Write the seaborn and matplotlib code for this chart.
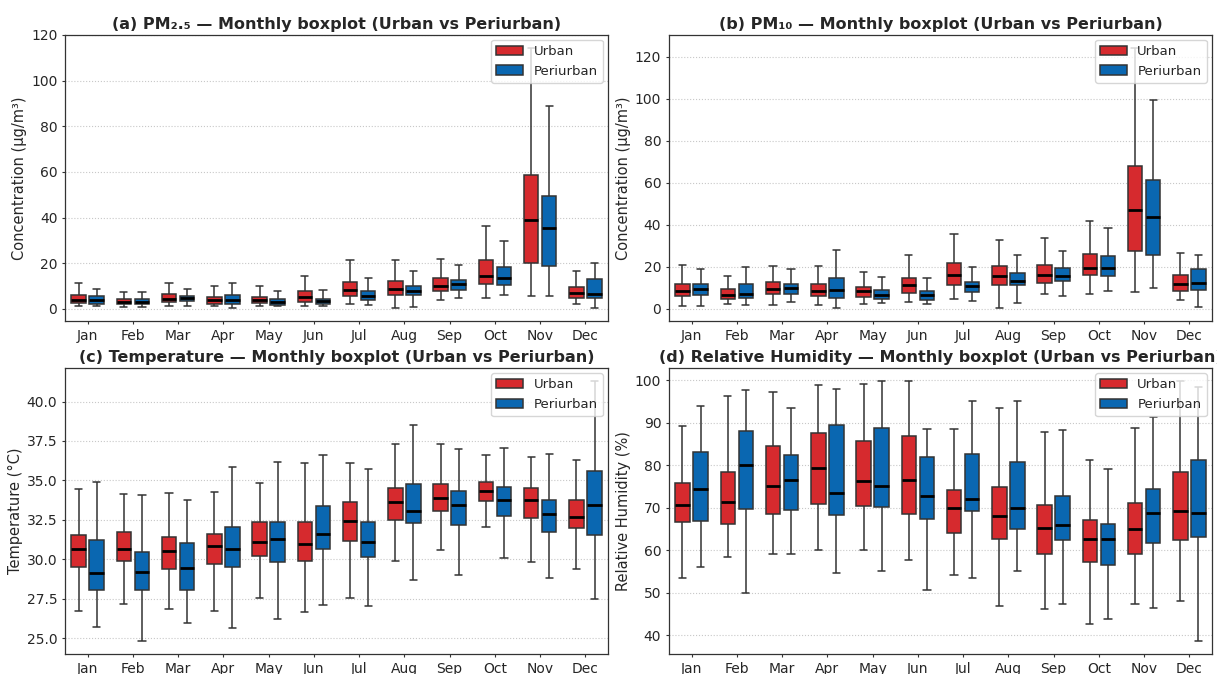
import numpy as np
import pandas as pd
import matplotlib
matplotlib.use("Agg")
import matplotlib.pyplot as plt
import seaborn as sns

months = ["Jan", "Feb", "Mar", "Apr", "May", "Jun",
          "Jul", "Aug", "Sep", "Oct", "Nov", "Dec"]
sites = ["Urban", "Periurban"]

# Five-number summaries per month: (min, Q1, median, Q3, max)
pm25_urban = [
    (1.0, 2.5, 3.9, 6.0, 11.3), (0.7, 2.0, 3.1, 4.2, 7.2),
    (1.2, 2.9, 4.2, 6.3, 11.1), (1.0, 2.3, 3.8, 5.3, 9.8),
    (1.3, 2.5, 3.7, 5.3, 10.1), (1.3, 3.1, 5.3, 7.9, 14.5),
    (2.3, 5.7, 8.2, 11.8, 21.3), (0.4, 6.0, 8.8, 12.0, 21.3),
    (3.7, 7.9, 9.9, 13.3, 21.6), (4.7, 11.0, 14.2, 21.2, 36.3),
    (5.6, 20.2, 38.9, 58.8, 114.5), (2.0, 4.7, 6.9, 9.6, 16.5)]
pm25_periurban = [
    (1.0, 2.2, 3.7, 5.4, 8.6), (0.7, 2.0, 3.1, 4.4, 7.3),
    (1.0, 3.2, 4.7, 5.7, 8.6), (0.3, 2.2, 3.9, 6.0, 11.4),
    (1.0, 1.6, 2.8, 4.1, 7.6), (1.0, 1.9, 3.2, 4.4, 8.2),
    (1.6, 3.7, 5.4, 7.7, 13.5), (0.7, 6.1, 7.7, 10.2, 16.5),
    (4.8, 8.2, 10.8, 12.7, 19.0), (6.1, 10.5, 13.5, 18.4, 29.8),
    (5.8, 18.6, 35.2, 49.6, 88.9), (0.4, 4.7, 6.4, 13.2, 20.2)]

pm10_urban = [
    (1.1, 5.9, 8.3, 11.8, 20.7), (2.1, 4.8, 6.5, 9.2, 15.4),
    (1.9, 7.0, 9.5, 12.7, 20.3), (1.6, 6.2, 8.3, 11.9, 20.3),
    (2.1, 5.6, 8.3, 10.5, 17.6), (3.2, 7.5, 11.1, 14.8, 25.6),
    (4.5, 11.4, 15.9, 21.6, 35.6), (0.5, 11.4, 15.4, 20.2, 32.8),
    (7.2, 12.1, 15.9, 20.7, 33.5), (7.0, 15.9, 19.6, 26.2, 42.0),
    (7.8, 27.7, 47.2, 68.2, 124.5), (4.1, 8.6, 11.6, 16.2, 26.4)]
pm10_periurban = [
    (1.1, 6.5, 9.4, 11.8, 18.8), (1.6, 5.1, 7.2, 11.6, 19.9),
    (3.0, 7.0, 10.0, 11.9, 18.9), (0.3, 5.2, 8.9, 14.6, 28.1),
    (2.5, 4.6, 6.5, 9.1, 14.9), (2.4, 4.0, 6.7, 8.4, 14.6),
    (3.7, 7.9, 10.7, 12.9, 19.7), (2.7, 11.3, 13.0, 17.0, 25.8),
    (6.2, 13.2, 15.4, 19.4, 27.3), (8.6, 15.7, 19.6, 25.3, 38.5),
    (10.0, 25.6, 43.7, 61.5, 99.7), (0.8, 9.1, 12.4, 19.1, 25.4)]

temp_urban = [
    (26.69, 29.50, 30.68, 31.53, 34.44), (27.15, 29.86, 30.66, 31.72, 34.15),
    (26.86, 29.39, 30.53, 31.42, 34.19), (26.75, 29.69, 30.81, 31.63, 34.27),
    (27.56, 30.20, 31.10, 32.35, 34.82), (26.67, 29.88, 30.98, 32.39, 36.09),
    (27.56, 31.17, 32.44, 33.60, 36.11), (29.88, 32.52, 33.60, 34.49, 37.32),
    (30.60, 33.05, 33.91, 34.78, 37.30), (32.06, 33.70, 34.34, 34.87, 36.62),
    (29.80, 32.61, 33.75, 34.51, 36.49), (29.39, 32.01, 32.71, 33.75, 36.32)]
temp_periurban = [
    (25.70, 28.06, 29.10, 31.19, 34.87), (24.79, 28.08, 29.20, 30.49, 34.06),
    (25.97, 28.06, 29.46, 31.00, 33.77), (25.63, 29.48, 30.68, 32.06, 35.88),
    (26.22, 29.80, 31.30, 32.35, 36.18), (27.09, 30.66, 31.61, 33.37, 36.60),
    (27.03, 30.15, 31.08, 32.39, 35.75), (28.68, 32.29, 33.05, 34.80, 38.50),
    (29.01, 32.16, 33.47, 34.34, 37.02), (30.07, 32.73, 33.75, 34.55, 37.08),
    (28.78, 31.72, 32.90, 33.73, 36.66), (27.47, 31.53, 33.43, 35.61, 41.31)]

rh_urban = [
    (53.6, 66.6, 70.8, 75.8, 89.2), (58.4, 66.3, 71.3, 78.4, 96.4),
    (59.1, 68.5, 75.1, 84.6, 97.3), (60.0, 70.9, 79.3, 87.6, 99.0),
    (60.0, 70.5, 76.4, 85.7, 99.1), (57.8, 68.5, 76.5, 86.9, 99.9),
    (54.3, 64.0, 69.9, 74.2, 88.6), (47.0, 62.6, 68.0, 75.0, 93.5),
    (46.3, 59.1, 65.4, 70.8, 87.9), (42.8, 57.4, 62.8, 67.2, 81.3),
    (47.3, 59.2, 65.1, 71.1, 88.9), (48.2, 62.4, 69.3, 78.4, 99.8)]
rh_periurban = [
    (56.0, 66.9, 74.5, 83.2, 94.0), (50.1, 69.7, 80.2, 88.2, 97.8),
    (59.1, 69.5, 76.6, 82.5, 93.4), (54.8, 68.3, 73.6, 89.4, 97.9),
    (55.1, 70.2, 75.2, 88.7, 99.9), (50.6, 67.4, 72.8, 82.1, 88.6),
    (53.5, 69.3, 72.2, 82.7, 95.1), (55.2, 65.0, 70.0, 80.9, 95.2),
    (47.5, 62.5, 66.0, 72.9, 88.4), (43.8, 56.6, 62.8, 66.3, 79.1),
    (46.5, 61.7, 68.7, 74.4, 91.4), (38.6, 63.1, 68.9, 81.4, 98.4)]

titles = [
    "(a) PM\u2082.\u2085 \u2014 Monthly boxplot (Urban vs Periurban)",
    "(b) PM\u2081\u2080 \u2014 Monthly boxplot (Urban vs Periurban)",
    "(c) Temperature \u2014 Monthly boxplot (Urban vs Periurban)",
    "(d) Relative Humidity \u2014 Monthly boxplot (Urban vs Periurban)",
]
ylabels = ["Concentration (\u03bcg/m\u00b3)", "Concentration (\u03bcg/m\u00b3)",
           "Temperature (\u00b0C)", "Relative Humidity (%)"]
panels = [(pm25_urban, pm25_periurban), (pm10_urban, pm10_periurban),
          (temp_urban, temp_periurban), (rh_urban, rh_periurban)]

colors = {"Urban": "#d62a2e", "Periurban": "#0a67b1"}


def long_frame(urban, periurban):
    rows = []
    for m, u, p in zip(months, urban, periurban):
        for v in u:
            rows.append((m, "Urban", v))
        for v in p:
            rows.append((m, "Periurban", v))
    return pd.DataFrame(rows, columns=["month", "site", "value"])


sns.set_style("ticks")
plt.rcParams["font.family"] = ["DejaVu Sans"]

fig, axes = plt.subplots(2, 2, figsize=(12.17, 6.74), dpi=100)
fig.subplots_adjust(left=0.0534, right=0.9959, top=0.9488, bottom=0.0290,
                    wspace=0.112, hspace=0.163)

for ax, (urban, peri), title, ylabel in zip(axes.flat, panels, titles, ylabels):
    df = long_frame(urban, peri)
    sns.boxplot(data=df, x="month", y="value", hue="site", order=months,
                hue_order=sites, palette=colors, saturation=1,
                whis=(0, 100), width=0.8, gap=0.2, showfliers=False,
                linecolor="#333333", linewidth=1.1,
                medianprops={"color": "black", "linewidth": 2},
                ax=ax)
    ax.set_axisbelow(True)
    ax.yaxis.grid(True, linestyle=":", color="#c8c8c8", linewidth=0.8)
    ax.xaxis.grid(False)
    ax.set_title(title, fontsize=11.5, fontweight="bold", pad=4)
    ax.set_ylabel(ylabel, fontsize=10.5, labelpad=3)
    ax.set_xlabel("")
    ax.tick_params(axis="both", labelsize=10, length=2.5, width=0.8,
                   pad=3, color="#333333")
    for s in ax.spines.values():
        s.set_visible(True)
        s.set_color("#333333")
        s.set_linewidth(0.9)
    old = ax.get_legend()
    handles = old.legend_handles
    labels = [t.get_text() for t in old.get_texts()]
    old.remove()
    ax.legend(handles, labels, loc="upper right", fontsize=9.5,
              frameon=True, framealpha=0.8, edgecolor="#cccccc",
              handlelength=2.0, borderaxespad=0.4)

fig.savefig("out.png", dpi=100)
